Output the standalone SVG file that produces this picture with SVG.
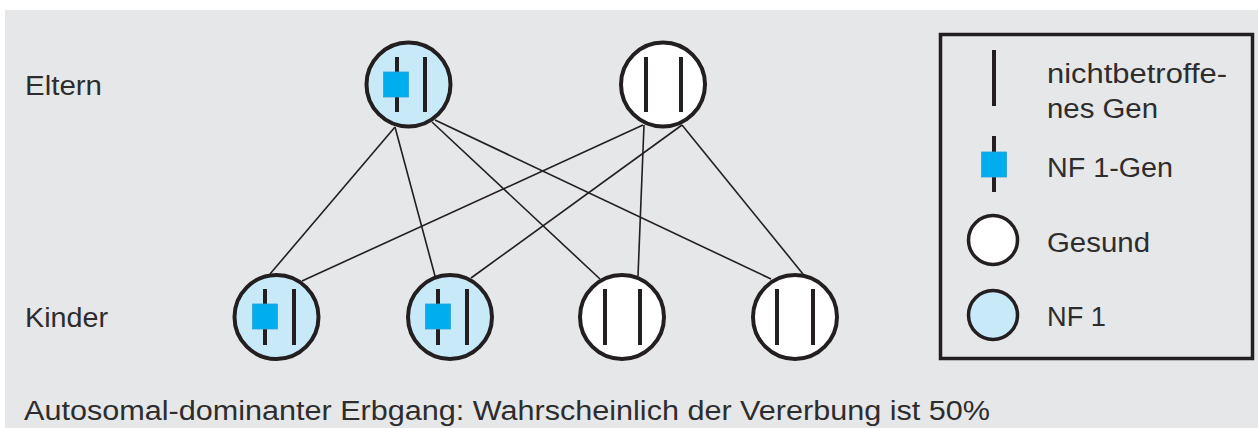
<svg xmlns="http://www.w3.org/2000/svg" width="1258" height="428" viewBox="0 0 1258 428">
<style>
.t{font-family:"Liberation Sans",Arial,sans-serif;font-size:27px;fill:#2e2d2e}
.ring{stroke:#231f20;stroke-width:4}
.aff{fill:#c8e9f8}
.ok{fill:#ffffff}
.bar{fill:#231f20}
.sq{fill:#00aeef;stroke:#29a3d6;stroke-width:0.8}
.edge{stroke:#231f20;stroke-width:1.6;fill:none}
</style>
<rect x="5" y="10" width="1253" height="418" fill="#e6e7e8"/>
<text class="t" x="25" y="95" textLength="77" lengthAdjust="spacingAndGlyphs">Eltern</text>
<text class="t" x="25" y="327" textLength="83" lengthAdjust="spacingAndGlyphs">Kinder</text>
<text class="t" x="24" y="420" font-size="28" textLength="966" lengthAdjust="spacingAndGlyphs">Autosomal-dominanter Erbgang: Wahrscheinlich der Vererbung ist 50%</text>
<g id="connectors">
<line class="edge" x1="395" y1="127" x2="270" y2="274"/>
<line class="edge" x1="395" y1="127" x2="435" y2="276"/>
<line class="edge" x1="432" y1="122" x2="600" y2="279"/>
<line class="edge" x1="435" y1="120" x2="771" y2="279"/>
<line class="edge" x1="643" y1="125" x2="302" y2="281"/>
<line class="edge" x1="682" y1="125" x2="471" y2="278"/>
<line class="edge" x1="644" y1="125" x2="638" y2="276"/>
<line class="edge" x1="682" y1="125" x2="803" y2="274"/>
</g>
<g id="parent1">
<circle class="ring aff" cx="408.5" cy="84.5" r="42"/>
<rect class="bar" x="395" y="57" width="4" height="55"/>
<rect class="bar" x="423" y="57" width="4" height="55"/>
<rect class="sq" x="383.5" y="72" width="25" height="25"/>
</g>
<g id="parent2">
<circle class="ring ok" cx="663" cy="84.5" r="42"/>
<rect class="bar" x="644" y="57" width="4" height="55"/>
<rect class="bar" x="679" y="57" width="4" height="55"/>
</g>
<g id="child1">
<circle class="ring aff" cx="276.5" cy="317" r="42"/>
<rect class="bar" x="263" y="289" width="4" height="56"/>
<rect class="bar" x="292" y="289" width="4" height="56"/>
<rect class="sq" x="252.5" y="304" width="25" height="25"/>
</g>
<g id="child2">
<circle class="ring aff" cx="450" cy="317" r="42"/>
<rect class="bar" x="436" y="289" width="4" height="56"/>
<rect class="bar" x="465" y="289" width="4" height="56"/>
<rect class="sq" x="425.5" y="304" width="25" height="25"/>
</g>
<g id="child3">
<circle class="ring ok" cx="622" cy="317" r="42"/>
<rect class="bar" x="603" y="289" width="4" height="56"/>
<rect class="bar" x="638" y="289" width="4" height="56"/>
</g>
<g id="child4">
<circle class="ring ok" cx="795" cy="317" r="42"/>
<rect class="bar" x="775" y="289" width="4" height="56"/>
<rect class="bar" x="811" y="289" width="4" height="56"/>
</g>
<g id="legend">
<rect x="940.5" y="34.5" width="312" height="324" fill="none" stroke="#231f20" stroke-width="3.5"/>
<rect class="bar" x="992" y="50" width="4" height="56"/>
<text class="t" x="1047" y="83" textLength="180" lengthAdjust="spacingAndGlyphs">nichtbetroffe-</text>
<text class="t" x="1047" y="118" textLength="111" lengthAdjust="spacingAndGlyphs">nes Gen</text>
<rect class="bar" x="992" y="136" width="4" height="56"/>
<rect class="sq" x="981.5" y="152" width="25" height="25"/>
<text class="t" x="1047" y="177" textLength="126" lengthAdjust="spacingAndGlyphs">NF 1-Gen</text>
<circle class="ok" cx="993" cy="240" r="24.5" stroke="#231f20" stroke-width="3.5"/>
<text class="t" x="1047" y="252" textLength="103" lengthAdjust="spacingAndGlyphs">Gesund</text>
<circle class="aff" cx="993" cy="315" r="24.5" stroke="#231f20" stroke-width="3.5"/>
<text class="t" x="1047" y="326" textLength="59" lengthAdjust="spacingAndGlyphs">NF 1</text>
</g>
</svg>
